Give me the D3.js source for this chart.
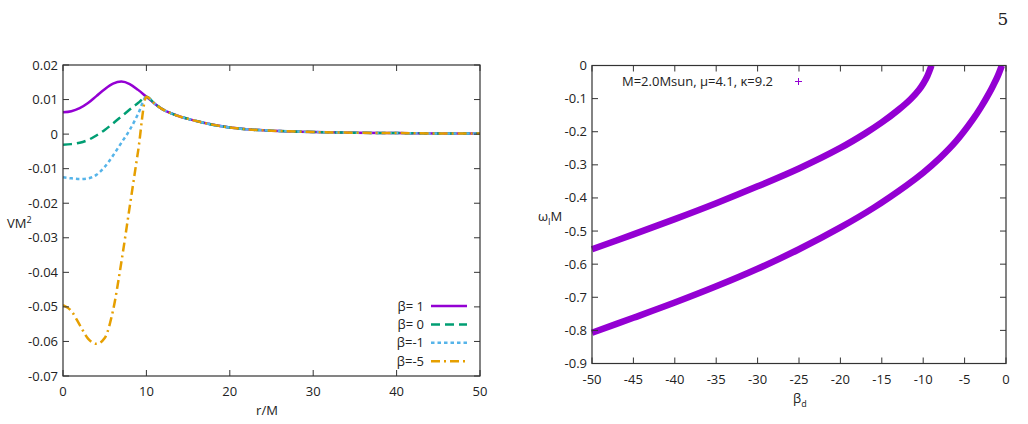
<!DOCTYPE html>
<html>
<head>
<meta charset="utf-8">
<script src="https://cdn.jsdelivr.net/npm/d3@7"></script>
<style>
  body { margin: 0; background: #fff; }
  text { font-family: "Open Sans", "Noto Sans", sans-serif; fill: #222; }
</style>
</head>
<body>
<svg id="fig" width="1028" height="424"></svg>
<script>
//
// Data
//

// left panel: potential V M^2 against r/M
const rInner = [0, 1, 2, 3, 4, 5, 6, 7, 8, 9]
const vBeta1 = [0.0063, 0.0066, 0.0075, 0.0090, 0.0110, 0.0130, 0.0146, 0.0152, 0.0145, 0.0128]
const vBeta0 = [-0.0031, -0.0029, -0.0025, -0.0017, -0.0004, 0.0012, 0.0031, 0.0051, 0.0071, 0.0090]
const vBetaM1 = [-0.0125, -0.0128, -0.0130, -0.0128, -0.0118, -0.0095, -0.0062, -0.0025, 0.0012, 0.0058]
const vBetaM5 = [-0.0495, -0.0512, -0.0552, -0.0592, -0.0607, -0.0590, -0.0510, -0.0370, -0.0210, -0.0050]
// all four curves share the same tail beyond r = 10
const rTail = [10, 11, 12, 13, 14, 15, 17, 20, 22, 25, 30, 35, 40, 45, 50]
const vTail = [0.0108, 0.0088, 0.0071, 0.0060, 0.0051, 0.0044, 0.0032, 0.0019, 0.0014, 0.0010, 0.0006, 0.0004, 0.0003, 0.0002, 0.0002]
const betaLabels = ['β= 1', 'β= 0', 'β=-1', 'β=-5']
const lineColors = ['#9400d3', '#009e73', '#56b4e9', '#e69f00']
const lineDash = [null, '9,5', '3.5,3', '9,4,2,4']

// right panel: omega_I M against beta_d
const betaUpper = [-50, -45, -40, -35, -30, -25, -20, -17, -15, -13, -11.5, -10.5, -10, -9.5, -9]
const omegaUpper = [-0.555, -0.510, -0.464, -0.416, -0.365, -0.311, -0.249, -0.205, -0.172, -0.134, -0.101, -0.073, -0.055, -0.032, 0]
const betaLower = [-50, -45, -40, -35, -30, -25, -20, -16, -12, -10, -8, -6, -4, -3, -2, -1.5, -1, -0.5]
const omegaLower = [-0.807, -0.762, -0.716, -0.667, -0.614, -0.555, -0.489, -0.430, -0.362, -0.324, -0.280, -0.228, -0.163, -0.125, -0.082, -0.058, -0.032, 0]
const keyLabel = 'M=2.0Msun, μ=4.1, κ=9.2'

const leftXTicks = [0, 10, 20, 30, 40, 50]
const leftYTicks = [0.02, 0.01, 0, -0.01, -0.02, -0.03, -0.04, -0.05, -0.06, -0.07]
const rightXTicks = [-50, -45, -40, -35, -30, -25, -20, -15, -10, -5, 0]
const rightYTicks = [0, -0.1, -0.2, -0.3, -0.4, -0.5, -0.6, -0.7, -0.8, -0.9]

//
// Setup
//

const svg = d3.select('#fig')
svg.append('rect').attr('width', 1028).attr('height', 424).attr('fill', '#fff')

// page number from the paper
svg.append('text')
  .attr('x', 1003).attr('y', 25)
  .attr('text-anchor', 'middle')
  .style('font-family', '"DejaVu Serif", "Liberation Serif", serif')
  .style('font-size', '17px')
  .text('5')

function fmt(v) {
  // gnuplot style: no trailing zeros
  return String(+v.toFixed(3))
}

function frame(g, x, y, xt, yt) {
  const [x0, x1] = x.range()
  const [y0, y1] = y.range()
  const tl = 6
  xt.forEach(function(t) {
    g.append('line').attr('x1', x(t)).attr('x2', x(t)).attr('y1', y0).attr('y2', y0 - tl)
      .attr('stroke', '#333')
    g.append('line').attr('x1', x(t)).attr('x2', x(t)).attr('y1', y1).attr('y2', y1 + tl)
      .attr('stroke', '#333')
    g.append('text').attr('x', x(t)).attr('y', y0 + 20)
      .attr('text-anchor', 'middle').style('font-size', '13px').text(fmt(t))
  })
  yt.forEach(function(t) {
    g.append('line').attr('x1', x0).attr('x2', x0 + tl).attr('y1', y(t)).attr('y2', y(t))
      .attr('stroke', '#333')
    g.append('line').attr('x1', x1).attr('x2', x1 - tl).attr('y1', y(t)).attr('y2', y(t))
      .attr('stroke', '#333')
    g.append('text').attr('x', x0 - 5).attr('y', y(t) + 4.5)
      .attr('text-anchor', 'end').style('font-size', '13px').text(fmt(t))
  })
  g.append('rect')
    .attr('x', x0).attr('y', y1).attr('width', x1 - x0).attr('height', y0 - y1)
    .attr('fill', 'none').attr('stroke', '#333').attr('stroke-width', 1.2)
}

//
// Left panel
//

const xL = d3.scaleLinear().domain([0, 50]).range([63, 480])
const yL = d3.scaleLinear().domain([-0.07, 0.02]).range([376, 65])
const gL = svg.append('g')

svg.append('clipPath').attr('id', 'clipL').append('rect')
  .attr('x', 63).attr('y', 65).attr('width', 417).attr('height', 311)

const lineL = d3.line()
  .x(function(d) { return xL(d[0]) })
  .y(function(d) { return yL(d[1]) })
  .curve(d3.curveMonotoneX)

const series = [vBeta1, vBeta0, vBetaM1, vBetaM5].map(function(vals) {
  const pts = rInner.map(function(r, i) { return [r, vals[i]] })
  return pts.concat(rTail.map(function(r, i) { return [r, vTail[i]] }))
})

gL.append('g').attr('clip-path', 'url(#clipL)')
  .selectAll('path')
  .data(series)
  .enter()
  .append('path')
  .attr('d', lineL)
  .attr('fill', 'none')
  .attr('stroke', function(d, i) { return lineColors[i] })
  .attr('stroke-width', 2.5)
  .attr('stroke-dasharray', function(d, i) { return lineDash[i] })

frame(gL, xL, yL, leftXTicks, leftYTicks)

gL.append('text').attr('x', 7).attr('y', 228).style('font-size', '13px')
  .html('VM<tspan dy="-5" font-size="9px">2</tspan>')
gL.append('text').attr('x', 267).attr('y', 415).attr('text-anchor', 'middle')
  .style('font-size', '13px').text('r/M')

// legend
betaLabels.forEach(function(lab, i) {
  const yy = 306 + i * 18.4
  gL.append('text').attr('x', 424).attr('y', yy + 4.5).attr('text-anchor', 'end')
    .style('font-size', '13px').text(lab)
  gL.append('line').attr('x1', 431).attr('x2', 467).attr('y1', yy).attr('y2', yy)
    .attr('stroke', lineColors[i]).attr('stroke-width', 2.5)
    .attr('stroke-dasharray', lineDash[i])
})

//
// Right panel
//

const xR = d3.scaleLinear().domain([-50, 0]).range([592, 1006])
const yR = d3.scaleLinear().domain([-0.9, 0]).range([363.5, 65.5])
const gR = svg.append('g')

svg.append('clipPath').attr('id', 'clipR').append('rect')
  .attr('x', 589).attr('y', 65).attr('width', 420).attr('height', 300)

const lineR = d3.line()
  .x(function(d) { return xR(d[0]) })
  .y(function(d) { return yR(d[1]) })
  .curve(d3.curveCatmullRom.alpha(0.5))

const branches = [
  betaUpper.map(function(b, i) { return [b, omegaUpper[i]] }),
  betaLower.map(function(b, i) { return [b, omegaLower[i]] })
]

gR.append('g').attr('clip-path', 'url(#clipR)')
  .selectAll('path')
  .data(branches)
  .enter()
  .append('path')
  .attr('d', lineR)
  .attr('fill', 'none')
  .attr('stroke', '#9400d3')
  .attr('stroke-width', 6.5)

frame(gR, xR, yR, rightXTicks, rightYTicks)

gR.append('text').attr('x', 538).attr('y', 221).style('font-size', '13px')
  .html('ω<tspan dy="4" font-size="9px">I</tspan><tspan dy="-4">M</tspan>')
gR.append('text').attr('x', 793).attr('y', 403).style('font-size', '13px')
  .html('β<tspan dy="4" font-size="9px">d</tspan>')

// key
gR.append('text').attr('x', 773).attr('y', 86).attr('text-anchor', 'end')
  .style('font-size', '13px').text(keyLabel)
gR.append('path')
  .attr('d', 'M795,81.5h7M798.5,78v7')
  .attr('stroke', '#9400d3').attr('stroke-width', 1)
</script>
</body>
</html>
